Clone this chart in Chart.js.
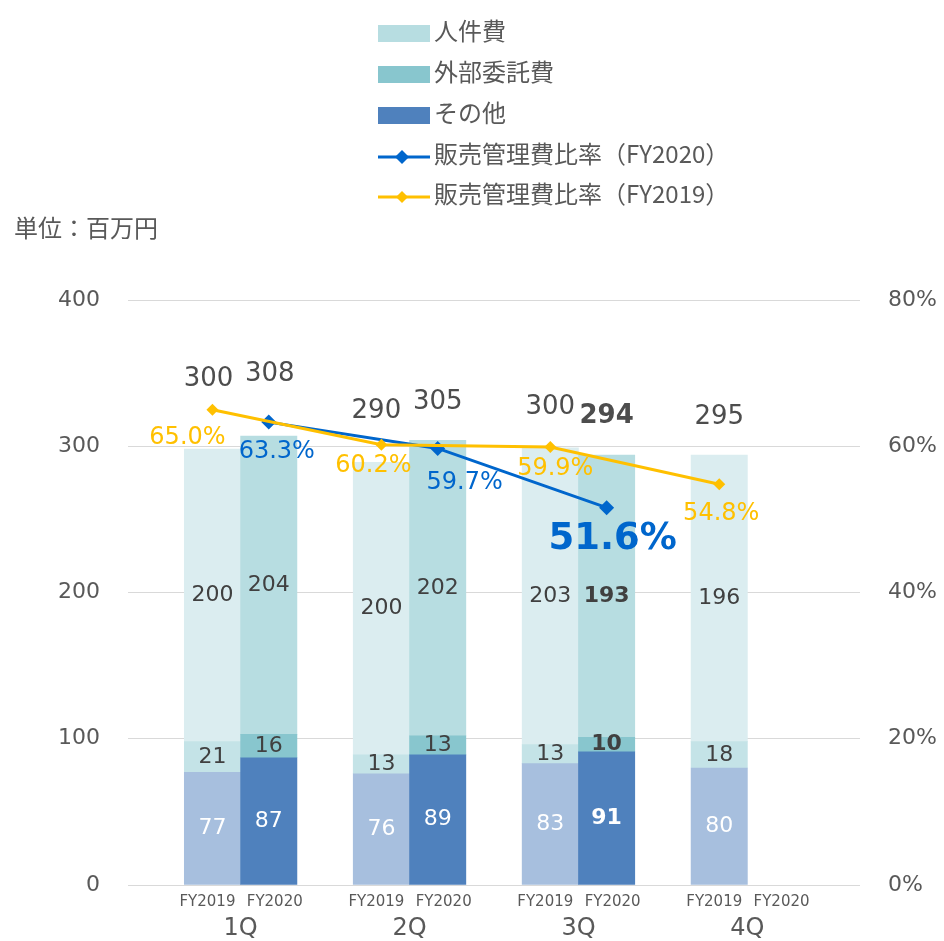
<!DOCTYPE html>
<html><head><meta charset="utf-8">
<script src="https://cdn.jsdelivr.net/npm/chart.js@4"></script>
<style>html,body{margin:0;padding:0;background:#fff}#wrap{width:944px;height:941px}</style>
</head><body><div id="wrap"><canvas id="c" width="944" height="941"></canvas></div>
<script>
// ---------- data ----------
const quarters = ['1Q', '2Q', '3Q', '4Q'];
const fiscalYears = ['FY2019', 'FY2020'];
const seriesNames = ['人件費', '外部委託費', 'その他'];
const ratioNames = ['販売管理費比率（FY2020）', '販売管理費比率（FY2019）'];
const unitLabel = '単位：百万円';

const personnelFY2019 = [200, 200, 203, 196];
const personnelFY2020 = [204, 202, 193, null];
const outsourcingFY2019 = [21, 13, 13, 18];
const outsourcingFY2020 = [16, 13, 10, null];
const otherFY2019 = [77, 76, 83, 80];
const otherFY2020 = [87, 89, 91, null];
const totalFY2019 = [300, 290, 300, 295];
const totalFY2020 = [308, 305, 294, null];
const ratioFY2019 = [65.0, 60.2, 59.9, 54.8];
const ratioFY2020 = [63.3, 59.7, 51.6, null];

// ---------- style ----------
const FONT = '"DejaVu Sans", Verdana, sans-serif';
const JFONT = '"Noto Sans CJK JP", "Noto Sans", sans-serif';
const TXT = '#595959';
const colors = {
  personnel: ['#DBEDF0', '#B7DDE1'],
  outsourcing: ['#C4E3E7', '#88C6CE'],
  other: ['#A7BFDE', '#4F81BD'],
  ratio2020: '#0066CC',
  ratio2019: '#FFC000'
};
const highlight = { q: 2, y: 1 }; // 3Q FY2020 emphasised
// total label lift above the bar top (px) per [quarter][year]
const totalLift = [[70, 62], [51, 38], [40, 39], [38, 38]];
const totalShiftX = [[-4, 1], [-5, 0], [0, 0], [0, 0]];
// ratio label offsets from point (px)
const ratioOffset2019 = [[-25, 28], [-8, 21], [5, 22], [2, 29]];
const ratioOffset2020 = [[8, 30], [27, 34], [6, 32], [0, 0]];

// ---------- build slot arrays (blank, FY2019, FY2020, blank, ...) ----------
const SLOTS = quarters.length * 3 + 1;
const slotOf = (q, y) => 1 + q * 3 + y;
function toSlots(a2019, a2020) {
  const out = new Array(SLOTS).fill(null);
  quarters.forEach((_, q) => { out[slotOf(q, 0)] = a2019[q]; out[slotOf(q, 1)] = a2020[q]; });
  return out;
}
function colorSlots(pair) {
  const out = new Array(SLOTS).fill('rgba(0,0,0,0)');
  quarters.forEach((_, q) => { out[slotOf(q, 0)] = pair[0]; out[slotOf(q, 1)] = pair[1]; });
  return out;
}
const labels = new Array(SLOTS).fill('');
quarters.forEach((qn, q) => { labels[slotOf(q, 0)] = qn + ' ' + fiscalYears[0]; labels[slotOf(q, 1)] = qn + ' ' + fiscalYears[1]; });

const datasets = [
  { type: 'bar', label: seriesNames[2], data: toSlots(otherFY2019, otherFY2020), backgroundColor: colorSlots(colors.other), order: 3, yAxisID: 'y', key: 'other' },
  { type: 'bar', label: seriesNames[1], data: toSlots(outsourcingFY2019, outsourcingFY2020), backgroundColor: colorSlots(colors.outsourcing), order: 3, yAxisID: 'y', key: 'outsourcing' },
  { type: 'bar', label: seriesNames[0], data: toSlots(personnelFY2019, personnelFY2020), backgroundColor: colorSlots(colors.personnel), order: 3, yAxisID: 'y', key: 'personnel' },
  { type: 'line', label: ratioNames[0], data: toSlots(new Array(4).fill(null), ratioFY2020), borderColor: colors.ratio2020, backgroundColor: colors.ratio2020,
    borderWidth: 3, pointStyle: 'rectRot', pointRadius: 7.5, pointBorderWidth: 0, spanGaps: true, yAxisID: 'y1', order: 1, key: 'r2020' },
  { type: 'line', label: ratioNames[1], data: toSlots(ratioFY2019, new Array(4).fill(null)), borderColor: colors.ratio2019, backgroundColor: colors.ratio2019,
    borderWidth: 3, pointStyle: 'rectRot', pointRadius: 6, pointBorderWidth: 0, spanGaps: true, yAxisID: 'y1', order: 0, key: 'r2019' }
];

// ---------- plugin: legend, unit, x labels, data labels ----------
const decor = {
  id: 'decor',
  afterDatasetsDraw(chart) {
    const ctx = chart.ctx;
    const metas = {};
    chart.data.datasets.forEach((ds, i) => { metas[ds.key] = chart.getDatasetMeta(i); });
    ctx.save();
    ctx.textAlign = 'center';
    ctx.textBaseline = 'middle';
    // segment labels
    ['other', 'outsourcing', 'personnel'].forEach(key => {
      const meta = metas[key];
      quarters.forEach((_, q) => {
        [0, 1].forEach(y => {
          const s = slotOf(q, y);
          const v = chart.data.datasets[meta.index].data[s];
          if (v == null) return;
          const el = meta.data[s];
          const { x, y: top, base } = el.getProps(['x', 'y', 'base'], true);
          const bold = highlight.q === q && highlight.y === y;
          ctx.font = (bold ? 'bold ' : '') + '22px ' + FONT;
          ctx.fillStyle = key === 'other' ? '#FFFFFF' : '#404040';
          ctx.fillText(String(v), x, (top + base) / 2);
        });
      });
    });
    // totals
    const topMeta = metas.personnel;
    quarters.forEach((_, q) => {
      [totalFY2019, totalFY2020].forEach((arr, y) => {
        const v = arr[q];
        if (v == null) return;
        const el = topMeta.data[slotOf(q, y)];
        const { x, y: top } = el.getProps(['x', 'y'], true);
        const bold = highlight.q === q && highlight.y === y;
        ctx.font = (bold ? 'bold ' : '') + '26px ' + FONT;
        ctx.fillStyle = '#4D4D4D';
        ctx.fillText(String(v), x + totalShiftX[q][y], top - totalLift[q][y]);
      });
    });
    // ratio labels
    [[metas.r2019, ratioFY2019, ratioOffset2019, 0, colors.ratio2019], [metas.r2020, ratioFY2020, ratioOffset2020, 1, colors.ratio2020]].forEach(([meta, arr, offs, y, col]) => {
      arr.forEach((v, q) => {
        if (v == null) return;
        const el = meta.data[slotOf(q, y)];
        const { x, y: py } = el.getProps(['x', 'y'], true);
        const bold = highlight.q === q && highlight.y === y;
        ctx.font = bold ? 'bold 37px ' + FONT : '24px ' + FONT;
        ctx.fillStyle = col;
        ctx.fillText(v.toFixed(1) + '%', x + offs[q][0], py + offs[q][1]);
      });
    });
    // x-axis labels
    const xs = chart.scales.x;
    quarters.forEach((qn, q) => {
      const x0 = xs.getPixelForValue(slotOf(q, 0));
      const x1 = xs.getPixelForValue(slotOf(q, 1));
      ctx.font = '15px ' + FONT;
      ctx.fillStyle = TXT;
      ctx.fillText(fiscalYears[0], x0 - 5, 902);
      ctx.fillText(fiscalYears[1], x1 + 6, 902);
      ctx.font = '24px ' + FONT;
      ctx.fillText(qn, (x0 + x1) / 2, 929);
    });
    // unit label
    ctx.textAlign = 'left';
    ctx.font = '24px ' + JFONT;
    ctx.fillStyle = TXT;
    ctx.fillText(unitLabel, 14, 228);
    // legend
    const items = [
      { t: seriesNames[0], c: colors.personnel[1], box: true },
      { t: seriesNames[1], c: colors.outsourcing[1], box: true },
      { t: seriesNames[2], c: colors.other[1], box: true },
      { t: ratioNames[0], c: colors.ratio2020, box: false, r: 7 },
      { t: ratioNames[1], c: colors.ratio2019, box: false, r: 6 }
    ];
    const ys = [33, 74, 115, 156, 196];
    items.forEach((it, i) => {
      const cy = ys[i];
      if (it.box) {
        ctx.fillStyle = it.c;
        ctx.fillRect(378, cy - 8, 52, 17);
      } else {
        ctx.strokeStyle = it.c; ctx.lineWidth = 3;
        ctx.beginPath(); ctx.moveTo(378, cy + 1); ctx.lineTo(430, cy + 1); ctx.stroke();
        ctx.fillStyle = it.c;
        ctx.beginPath();
        ctx.moveTo(402, cy + 1 - it.r); ctx.lineTo(402 + it.r, cy + 1); ctx.lineTo(402, cy + 1 + it.r); ctx.lineTo(402 - it.r, cy + 1);
        ctx.closePath(); ctx.fill();
      }
      ctx.fillStyle = TXT;
      ctx.font = '24px ' + JFONT;
      ctx.fillText(it.t, 434, cy - 2);
    });
    ctx.restore();
  }
};

new Chart(document.getElementById('c'), {
  data: { labels, datasets },
  options: {
    responsive: false,
    animation: false,
    devicePixelRatio: 1,
    layout: { padding: { top: 300, left: 0, right: 0, bottom: 0 } },
    plugins: { legend: { display: false }, tooltip: { enabled: false } },
    datasets: { bar: { barPercentage: 1, categoryPercentage: 1, borderWidth: 0 } },
    scales: {
      x: {
        type: 'category', stacked: true, offset: true,
        grid: { display: false }, border: { display: false },
        ticks: { display: false },
        afterFit(s) { s.height = 56; }
      },
      y: {
        position: 'left', stacked: true, min: 0, max: 400,
        ticks: { stepSize: 100, padding: 28, color: TXT, font: { family: FONT, size: 22 } },
        grid: { color: '#D9D9D9', lineWidth: 1, drawTicks: false },
        border: { display: false },
        afterFit(s) { s.width = 128; }
      },
      y1: {
        position: 'right', stacked: false, min: 0, max: 80,
        ticks: { stepSize: 20, padding: 28, color: TXT, font: { family: FONT, size: 22 }, callback: v => v + '%' },
        grid: { display: false, drawTicks: false },
        border: { display: false },
        afterFit(s) { s.width = 84; }
      }
    }
  },
  plugins: [decor]
});
</script>
</body></html>
